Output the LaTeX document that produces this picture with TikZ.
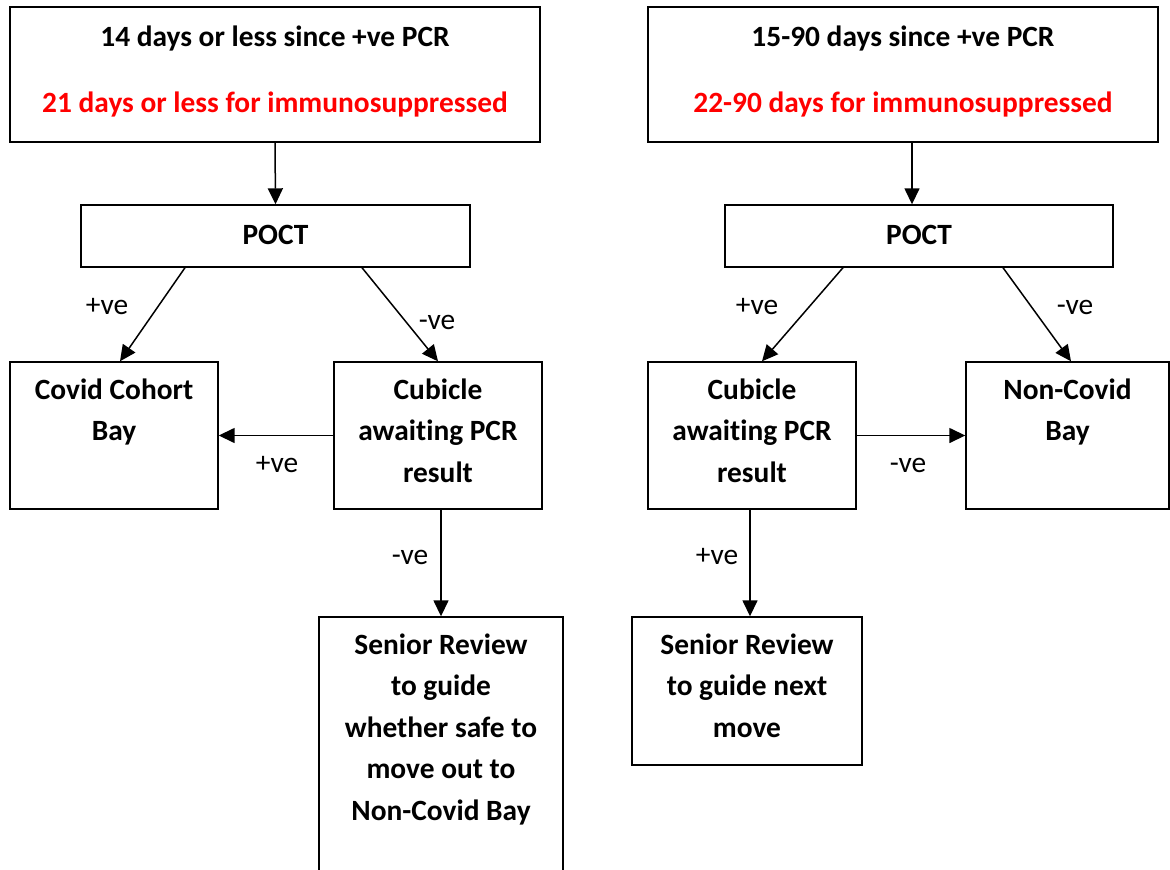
\documentclass[tikz,border=0pt]{standalone}
\usepackage{fontspec}
\setmainfont[Ligatures=NoCommon]{Carlito}
\usetikzlibrary{arrows.meta,calc}

% Box contents: width, height, depth of the first baseline below the top, text
\newcommand\boxtxt[4]{\parbox[c][#2][t]{#1}{\centering\rule{0pt}{#3}#4\par}}

\begin{document}
\begin{tikzpicture}[x=1pt,y=-1pt,
  box/.style={draw, line width=1.4pt, inner sep=0pt,
              font=\bfseries\fontsize{29.4}{41.5}\selectfont},
  arr/.style={line width=1.5pt, -{Triangle[length=16pt,width=15pt]}},
  lbl/.style={inner sep=0pt, font=\fontsize{29.4}{34}\selectfont}]
\useasboundingbox (0,0) rectangle (1170,870);

% ---- left branch ----
\node[box] (topL) at (275,74.5) {\boxtxt{530pt}{135pt}{39pt}{14 days or less since +ve PCR\\[25pt]
  {\color{red}21 days or less for immunosuppressed}}};
\node[box] (poctL) at (275.5,236) {\boxtxt{389pt}{62pt}{39pt}{POCT}};
\node[box] (covid) at (114,435.5) {\boxtxt{208pt}{147pt}{37pt}{Covid Cohort\\Bay}};
\node[box] (cubL) at (438,435.5) {\boxtxt{208pt}{147pt}{37pt}{Cubicle\\awaiting PCR\\result}};
\node[box] (senL) at (441,747) {\boxtxt{244pt}{260pt}{37pt}{Senior Review\\to guide\\whether safe to\\move out to\\Non-Covid Bay}};

\draw[arr] (topL.south) -- (poctL.north);
\draw[arr] ($(poctL.south)+(-90.5,0)$) -- ($(covid.north)+(6,0)$);
\draw[arr] ($(poctL.south)+(86.5,0)$) -- (cubL.north);
\draw[arr] (cubL.west) -- (covid.east);
\draw[arr] (cubL.south -| senL.north) -- (senL.north);

\node[lbl] (lpL1) at (107,307) {+ve};
\node[lbl] (lnL1) at (437,322) {-ve};
\node[lbl] (lpL2) at (277,465) {+ve};
\node[lbl] (lnL2) at (410,557) {-ve};

% ---- right branch ----
\node[box] (topR) at (903,74.5) {\boxtxt{510pt}{135pt}{39pt}{15-90 days since +ve PCR\\[25pt]
  {\color{red}22-90 days for immunosuppressed}}};
\node[box] (poctR) at (919,236) {\boxtxt{388pt}{62pt}{39pt}{POCT}};
\node[box] (cubR) at (752,435.5) {\boxtxt{208pt}{147pt}{37pt}{Cubicle\\awaiting PCR\\result}};
\node[box] (noncov) at (1067.5,435.5) {\boxtxt{203pt}{147pt}{37pt}{Non-Covid\\Bay}};
\node[box] (senR) at (747,691) {\boxtxt{230pt}{148pt}{37pt}{Senior Review\\to guide next\\move}};

\draw[arr] ($(topR.south)+(9,0)$) -- ($(poctR.north)+(-7,0)$);
\draw[arr] ($(poctR.south)+(-76,0)$) -- ($(cubR.north)+(10,0)$);
\draw[arr] ($(poctR.south)+(84,0)$) -- ($(noncov.north)+(3.5,0)$);
\draw[arr] (cubR.east) -- (noncov.west);
\draw[arr] ($(cubR.south)+(-2,0)$) -- ($(senR.north)+(3,0)$);

\node[lbl] (lpR1) at (757,307) {+ve};
\node[lbl] (lnR1) at (1075,307) {-ve};
\node[lbl] (lnR2) at (908,465) {-ve};
\node[lbl] (lpR2) at (717,557) {+ve};
\end{tikzpicture}
\end{document}
